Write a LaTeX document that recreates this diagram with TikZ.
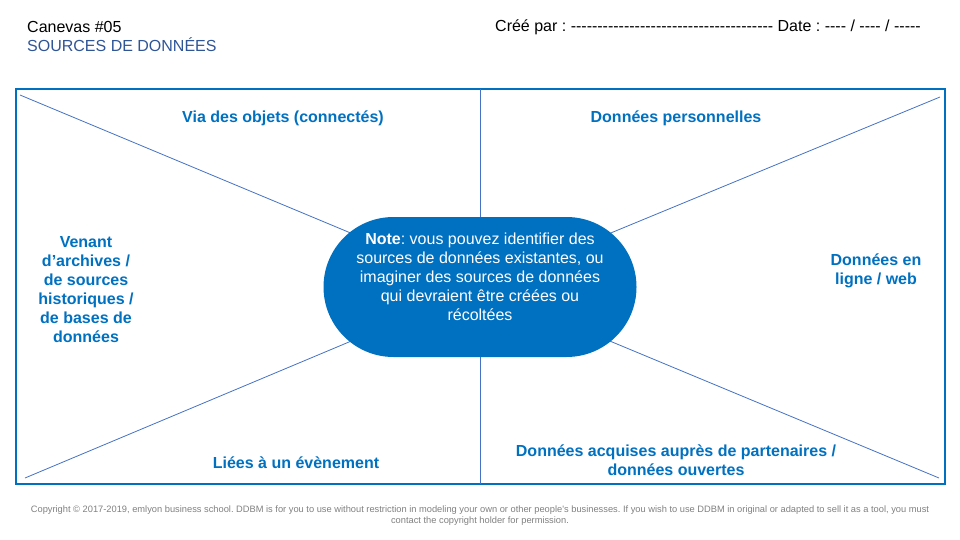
\documentclass[tikz,border=0pt]{standalone}
\usepackage{fontspec}
\setmainfont{Liberation Sans}[Ligatures=TeXOff]
\frenchspacing

\definecolor{frameblue}{HTML}{0070C0}
\definecolor{lineblue}{HTML}{4472C4}
\definecolor{titleblue}{HTML}{2F5597}
\definecolor{notegray}{HTML}{808080}

\begin{document}
\begin{tikzpicture}[x=1pt, y=-1pt,
  zonetxt/.style={font=\fontsize{16}{19}\selectfont\bfseries, text=frameblue, align=center, inner sep=0pt},
  headtxt/.style={font=\fontsize{16}{18}\selectfont, anchor=west, inner sep=0pt},
  notetxt/.style={font=\fontsize{16}{19}\selectfont, text=white, align=center, inner sep=0pt},
  pill/.style={fill=frameblue, rounded corners=70pt, minimum width=313pt, minimum height=140pt, inner sep=0pt},
  spoke/.style={lineblue, line width=0.8pt}]

  \useasboundingbox (0,0) rectangle (960,540);

  % --- 1. En-tête ---
  \node[headtxt] (canevas) at (27,27) {Canevas \#05};
  \node[headtxt, text=titleblue] (titre) at (27,45) {SOURCES DE DONNÉES};
  \node[headtxt] (creepar) at (495,27) {Créé par : -------------------------------------- Date : ---- / ---- / -----};

  % --- 2. Cadre et repères ---
  \coordinate (hg) at (20,95);
  \coordinate (hd) at (940,97);
  \coordinate (bg) at (25,478);
  \coordinate (bd) at (939,478);
  \coordinate (haut) at (480,89);
  \coordinate (bas) at (480,484);
  \coordinate (mid) at (480,287);

  \draw[frameblue, line width=1.5pt] (16,89) rectangle (945,484);
  \draw[spoke] (haut) -- (bas);
  \draw[spoke] (hg) -- (mid);
  \draw[spoke] (hd) -- (mid);
  \draw[spoke] (bg) -- (mid);
  \draw[spoke] (bd) -- (mid);

  % --- 3. Note centrale ---
  \node[pill] (pill) at (mid) {};
  \node[notetxt] (notetext) at ([yshift=10pt]pill.center)
    {\textbf{Note}: vous pouvez identifier des\\sources de données existantes, ou\\imaginer des sources de données\\qui devraient être créées ou\\récoltées};

  % --- 4. Zones ---
  \node[zonetxt] (objets) at (283,118.5) {Via des objets (connectés)};
  \node[zonetxt] (perso) at (676,118.5) {Données personnelles};
  \node[zonetxt] (archives) at (86,290) {Venant\\d’archives /\\de sources\\historiques /\\de bases de\\données};
  \node[zonetxt] (web) at (876,271) {Données en\\ligne / web};
  \node[zonetxt] (evenement) at (296,462.5) {Liées à un évènement};
  \node[zonetxt] (partenaires) at (676,460) {Données acquises auprès de partenaires /\\données ouvertes};

  % --- 5. Copyright ---
  \node[font=\fontsize{9.3}{11}\selectfont, text=notegray, align=center, inner sep=0pt] (copyright) at (480,516)
    {Copyright © 2017-2019, emlyon business school. DDBM is for you to use without restriction in modeling your own or other people's businesses. If you wish to use DDBM in original or adapted to sell it as a tool, you must\\contact the copyright holder for permission.};

\end{tikzpicture}
\end{document}
